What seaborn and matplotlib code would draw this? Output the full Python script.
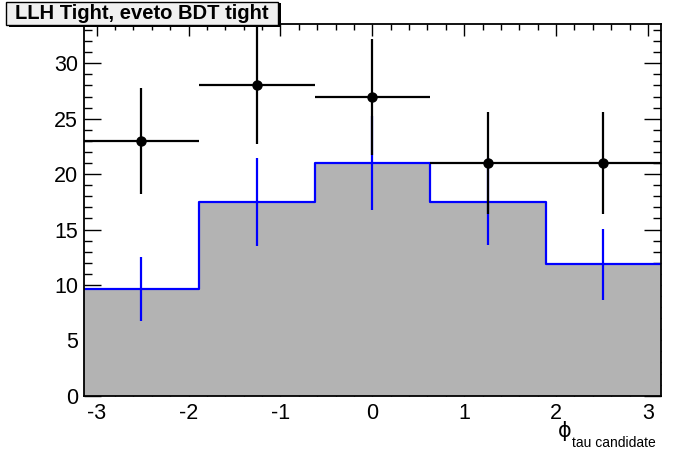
import numpy as np
import pandas as pd
import matplotlib
matplotlib.use("Agg")
import matplotlib.pyplot as plt
from matplotlib.patches import Rectangle
from matplotlib.ticker import MultipleLocator
import seaborn as sns

# ---- data ----
bin_edges = list(np.linspace(-np.pi, np.pi, 6))
bin_centers = [0.5 * (a + b) for a, b in zip(bin_edges[:-1], bin_edges[1:])]
mc_values = [9.65, 17.5, 21.0, 17.5, 11.85]
mc_errors = [2.9, 3.97, 4.25, 3.92, 3.18]
data_values = [23, 28, 27, 21, 21]
data_err_low = [4.75, 5.3, 5.25, 4.6, 4.6]
data_err_high = [4.8, 5.3, 5.2, 4.6, 4.6]
title_text = "LLH Tight, eveto BDT tight"
xlabel_main = "\u03d5"
xlabel_sub = "tau candidate"

sns.set_theme(style="ticks")
plt.rcParams["font.family"] = ["Liberation Sans", "DejaVu Sans"]
plt.rcParams["axes.unicode_minus"] = False

W, H = 696, 472
fig = plt.figure(figsize=(W / 100, H / 100), dpi=100)
ax = fig.add_axes([83.7 / W, 1 - 395.7 / H, (661 - 83.7) / W, (395.7 - 24) / H])

df = pd.DataFrame({"x": bin_centers, "w": mc_values})
# grey filled histogram
sns.histplot(data=df, x="x", weights="w", bins=bin_edges, element="step",
             fill=True, color="#b3b3b3", alpha=1.0, linewidth=0, ax=ax)
# blue outline
sns.histplot(data=df, x="x", weights="w", bins=bin_edges, element="step",
             fill=False, color="#0000ff", linewidth=1.6, ax=ax)
# blue MC error bars
ax.errorbar(bin_centers, mc_values, yerr=mc_errors, fmt="none",
            ecolor="#0000ff", elinewidth=1.6, capsize=0, zorder=4)
# data points
half_w = 0.5 * (bin_edges[1] - bin_edges[0])
ax.errorbar(bin_centers, data_values, yerr=[data_err_low, data_err_high],
            xerr=half_w, fmt="o", color="black", ecolor="black",
            elinewidth=1.6, capsize=0, markersize=6.5, zorder=5)

ax.set_xlim(-np.pi, np.pi)
ax.set_ylim(0, 33.55)
ax.set_xlabel("")
ax.set_ylabel("")
ax.xaxis.set_major_locator(MultipleLocator(1))
ax.xaxis.set_minor_locator(MultipleLocator(0.2))
ax.yaxis.set_major_locator(MultipleLocator(5))
ax.yaxis.set_minor_locator(MultipleLocator(1))
for s in ax.spines.values():
    s.set_visible(True)
    s.set_linewidth(1.3)
    s.set_color("black")
ax.tick_params(axis="both", which="both", direction="in", top=True, right=True,
               color="black", width=1.0, labelsize=15.5, labelcolor="black")
ax.tick_params(axis="x", which="major", length=8.5, pad=5)
ax.tick_params(axis="x", which="minor", length=4.5)
ax.tick_params(axis="y", which="major", length=12, pad=4)
ax.tick_params(axis="y", which="minor", length=6)
ax.set_facecolor("white")
ax.grid(False)

# x label (ROOT style, right-aligned below axis)
fig.text(565 / W, 1 - 431 / H, xlabel_main, family="DejaVu Sans", fontsize=15,
         ha="center", va="center", color="black")
fig.text(572 / W, 1 - 443 / H, xlabel_sub, fontsize=10, ha="left", va="center",
         color="black")

# title box with shadow
fig.patches.append(Rectangle((9 / W, 1 - 27 / H), 272 / W, 24 / H,
                             transform=fig.transFigure, facecolor="black",
                             edgecolor="none", zorder=10))
fig.patches.append(Rectangle((6 / W, 1 - 24.5 / H), 272 / W, 22.5 / H,
                             transform=fig.transFigure, facecolor="#f0f0f0",
                             edgecolor="black", linewidth=1.0, zorder=11))
fig.text(142 / W, 1 - 13.5 / H, title_text, fontsize=14.5, fontweight="bold",
         ha="center", va="center", color="black", zorder=12)

fig.savefig("out.png", dpi=100)
